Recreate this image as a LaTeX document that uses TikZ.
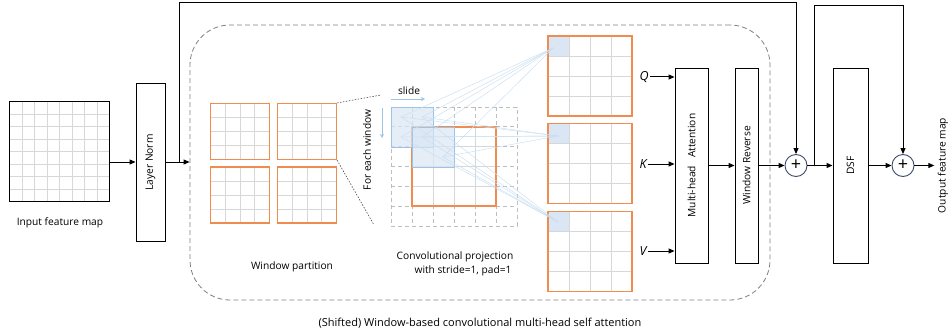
\documentclass[tikz,border=0pt]{standalone}
\usepackage{fontspec}
\setmainfont{Open Sans}
\usetikzlibrary{arrows.meta,calc}
\definecolor{orng}{RGB}{240,140,80}
\definecolor{gridc}{RGB}{215,215,215}
\definecolor{padc}{RGB}{190,190,190}
\definecolor{cellblue}{RGB}{218,230,244}
\definecolor{bluebd}{RGB}{157,195,230}
\definecolor{bluel}{RGB}{200,222,242}
\definecolor{pluscol}{RGB}{60,75,105}
\newcommand\gridlinesN[2]{%
  \pgfmathtruncatemacro\nm{#1-1}%
  \foreach \k in {1,...,\nm}{%
    \draw[#2] ($(path picture bounding box.north west)!\k/#1!(path picture bounding box.north east)$) -- ($(path picture bounding box.south west)!\k/#1!(path picture bounding box.south east)$);
    \draw[#2] ($(path picture bounding box.north west)!\k/#1!(path picture bounding box.south west)$) -- ($(path picture bounding box.north east)!\k/#1!(path picture bounding box.south east)$);
  }}
\tikzset{
  gridline/.style={gridc,line width=0.9pt},
  padline/.style={padc,line width=0.8pt,dash pattern=on 4pt off 3pt},
  gridded/.style={path picture={\gridlinesN{#1}{gridline}}},
  padgrid/.style={draw=padc,line width=0.8pt,dash pattern=on 4pt off 3pt,inner sep=0pt,path picture={\gridlinesN{#1}{padline}}},
  winbox/.style={draw=orng,line width=1.1pt,inner sep=0pt,minimum width=59pt,minimum height=56pt,gridded=4},
  qkvbox/.style={draw=orng,line width=1.1pt,inner sep=0pt,minimum width=84pt,minimum height=80pt,
    path picture={\fill[cellblue] (path picture bounding box.north west) rectangle ($(path picture bounding box.north west)!0.25!(path picture bounding box.south east)$);\gridlinesN{4}{gridline}}},
  bluebox/.style={draw=bluebd,line width=0.9pt,fill=cellblue,fill opacity=0.7,inner sep=0pt,minimum width=42pt,minimum height=40pt},
  blk/.style={draw=black,line width=0.9pt,inner sep=0pt},
  plusnode/.style={circle,draw=pluscol,line width=0.9pt,minimum size=22pt,inner sep=0pt,font=\fontsize{18}{18}\selectfont},
  qkvlabel/.style={inner sep=1pt,font=\fontsize{12.5}{14}\selectfont\itshape},
  conn/.style={->,line width=1pt},
  fan/.style={bluel,line width=0.45pt},
  dotl/.style={black!70,line width=0.6pt,dash pattern=on 1.5pt off 1.5pt},
}
\begin{document}
\begin{tikzpicture}[x=1pt,y=-1pt,font=\fontsize{10.2}{12}\selectfont,>={Triangle[length=6pt,width=5pt]}]
\useasboundingbox (0,0) rectangle (950,334);

% dashed outer box
\node[draw=gray,line width=0.8pt,dash pattern=on 5pt off 3pt,rounded corners=40pt,minimum width=580pt,minimum height=275pt,inner sep=0pt] (bigbox) at (480,162.5) {};

% input feature map
\node[draw=black,line width=1pt,inner sep=0pt,minimum width=100pt,minimum height=100pt,gridded=8] (inp) at (59.5,151.5) {};
\node (inpl) at (60,223) {Input feature map};

% layer norm
\node[blk,minimum width=29pt,minimum height=158pt] (ln) at (150.5,162.5) {\rotatebox{90}{Layer Norm}};

% window partition
\node[winbox] (w1) at (240,131.5) {};
\node[winbox] (w2) at (307,131.5) {};
\node[winbox] (w3) at (240,195) {};
\node[winbox] (w4) at (307,195) {};
\node (wpl) at (292,267) {Window partition};

\coordinate (d1) at (381,95);
\coordinate (d2) at (374,225);
\draw[dotl] (w2.north east) -- (d1);
\draw[dotl] (w2.south east) -- (d2);

\node (few) at (367,150) {\rotatebox{90}{For each window}};
\coordinate (fa1) at (382,108);
\coordinate (fa2) at (382,138);
\draw[->,bluebd,line width=0.7pt,>={Stealth[length=4pt,width=4pt]}] (fa1) -- (fa2);

% conv projection
\node[padgrid=6,minimum width=126pt,minimum height=119pt] (pad) at (454,166.5) {};
\node[draw=orng,line width=1.1pt,inner sep=0pt,minimum width=84pt,minimum height=79pt,gridded=4] (core) at (454,166.5) {};
\node[bluebox] (b1) at (412,127) {};
\node[bluebox] (b2) at (433,147) {};
\node (slide) at (409,91) {slide};
\coordinate (sa1) at (391,99);
\coordinate (sa2) at (425,99);
\draw[->,bluebd,line width=0.7pt,>={Stealth[length=4pt,width=4pt]}] (sa1) -- (sa2);
\node (cpl1) at (455,257) {Convolutional projection};
\node (cpl2) at (463,271) {with stride=1, pad=1};

% Q K V maps
\node[qkvbox] (qm) at (590,76) {};
\node[qkvbox] (km) at (590,163.5) {};
\node[qkvbox] (vm) at (590,251.5) {};

% fan lines
\coordinate (qt) at (553,48);
\coordinate (kt) at (558,136);
\coordinate (vt) at (558,222);
\foreach \p in {(401,117),(422,117),(401,137),(422,137),(443,157)}{
  \draw[fan] \p -- (qt);
  \draw[fan] \p -- (kt);
  \draw[fan] \p -- (vt);
}

% attention blocks
\node[blk,minimum width=33pt,minimum height=195pt] (mha) at (691.5,165.5) {\rotatebox{90}{Multi-head\ \ \ Attention}};
\node[blk,minimum width=23pt,minimum height=195pt] (wr) at (746.5,165.5) {\rotatebox{90}{Window Reverse}};
\node[qkvlabel] (ql) at (644,77) {Q};
\node[qkvlabel] (kl) at (643,164) {K};
\node[qkvlabel] (vl) at (643,251) {V};
\draw[conn] (ql.east) -- (ql.east -| mha.west);
\draw[conn] (kl.east) -- (kl.east -| mha.west);
\draw[conn] (vl.east) -- (vl.east -| mha.west);
\draw[conn] (mha.east) -- (wr.west);

% residual parts
\node[plusnode] (p1) at (796,165.5) {+};
\node[blk,minimum width=35pt,minimum height=195pt] (dsf) at (850.5,165.5) {\rotatebox{90}{DSF}};
\node[plusnode] (p2) at (903,165.5) {+};
\node (outl) at (943,165.5) {\rotatebox{90}{Output feature map}};

\draw[conn] ($(inp.east)+(0,10.5)$) coordinate (a0) -- (a0 -| ln.west);
\draw[conn] (ln.east |- a0) -- (a0 -| bigbox.west);
\coordinate (s1) at (179,162);
\coordinate (top1) at (0,3);
\draw[conn] (s1) -- (s1 |- top1) -- (top1 -| p1) -- (p1.north);
\draw[conn] (wr.east) -- (p1.west);
\draw[conn] (p1.east) -- (dsf.west);
\coordinate (s2) at (814,165.5);
\coordinate (top2) at (0,6);
\draw[conn] (s2) -- (s2 |- top2) -- (top2 -| p2) -- (p2.north);
\draw[conn] (dsf.east) -- (p2.west);
\draw[conn] (p2.east) -- (p2.east -| outl.west);

\node[font=\fontsize{11}{13}\selectfont] (cap) at (480,323) {(Shifted) Window-based convolutional multi-head self attention};
\end{tikzpicture}
\end{document}
